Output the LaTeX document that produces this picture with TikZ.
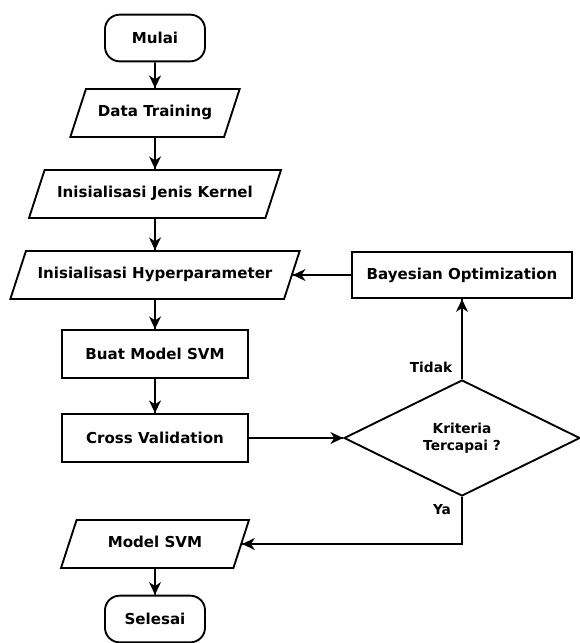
\documentclass[tikz,border=0pt]{standalone}
\usepackage{fontspec}
\setmainfont{DejaVu Sans}
\usetikzlibrary{arrows.meta,decorations.markings,shapes.geometric}
\tikzstyle{base}=[draw, line width=1.4pt, inner sep=0pt, align=center,
    font=\bfseries\fontsize{11.3}{13}\selectfont]
\tikzstyle{terminal}=[base, rectangle, rounded corners=11pt,
    minimum width=75pt, minimum height=35pt]
\tikzstyle{inout}=[base, trapezium, trapezium left angle=72,
    trapezium right angle=108, trapezium stretches body,
    text height=8pt, text depth=3pt, inner xsep=0pt, inner ysep=12.5pt]
\tikzstyle{process}=[base, rectangle, minimum width=140pt, minimum height=36pt]
\tikzstyle{decision}=[base, diamond, minimum width=177pt, minimum height=87pt,
    font=\bfseries\fontsize{10.3}{13}\selectfont]
\tikzstyle{answer}=[inner sep=0pt, font=\bfseries\fontsize{10.3}{12}\selectfont]
\newcommand{\terminal}{\node[terminal]}
\newcommand{\inout}{\node[inout]}
\newcommand{\process}{\node[process]}
\newcommand{\decision}{\node[decision]}
\begin{document}
\begin{tikzpicture}[x=0.75pt, y=-0.75pt
    ,every edge/.style={
        draw, line width=1.4pt,
        postaction={decorate,
                    decoration={markings,mark=at position 1 with
                    {\arrow[line width=1pt]{Stealth[length=9.5pt,width=9pt,inset=3pt]}}} } }
]
\useasboundingbox (0,0) rectangle (579,643);
\terminal (mulai) at (155,38) {Mulai};
\inout (dt) [minimum width=127pt] at (155,113) {Data Training};
\inout (kern) [minimum width=189pt] at (155,194) {Inisialisasi Jenis Kernel};
\inout (hyp) [minimum width=217pt] at (155,275) {Inisialisasi Hyperparameter};
\process (svm) at (155,354) {Buat Model SVM};
\process (cv) at (155,438) {Cross Validation};
\inout (model) [minimum width=141pt] at (155,544) {Model SVM};
\terminal (sel) at (155,619) {Selesai};
\process (bo) [minimum width=165pt, minimum height=35pt] at (462,275) {Bayesian Optimization};
\decision (krit) at (462,438) {Kriteria\\Tercapai ?};
\node[answer] (tidak) at (431,367) {Tidak};
\node[answer] (ya) at (442,510) {Ya};
\path
(mulai) edge (dt)
(dt) edge (kern)
(kern) edge (hyp)
(hyp) edge (svm)
(svm) edge (cv)
(cv) edge (krit)
(krit.north) edge (bo)
(bo) edge (hyp.east)
(krit.south) edge[to path={|- (\tikztotarget)}] (model.east)
(model) edge (sel)
;
\end{tikzpicture}
\end{document}
